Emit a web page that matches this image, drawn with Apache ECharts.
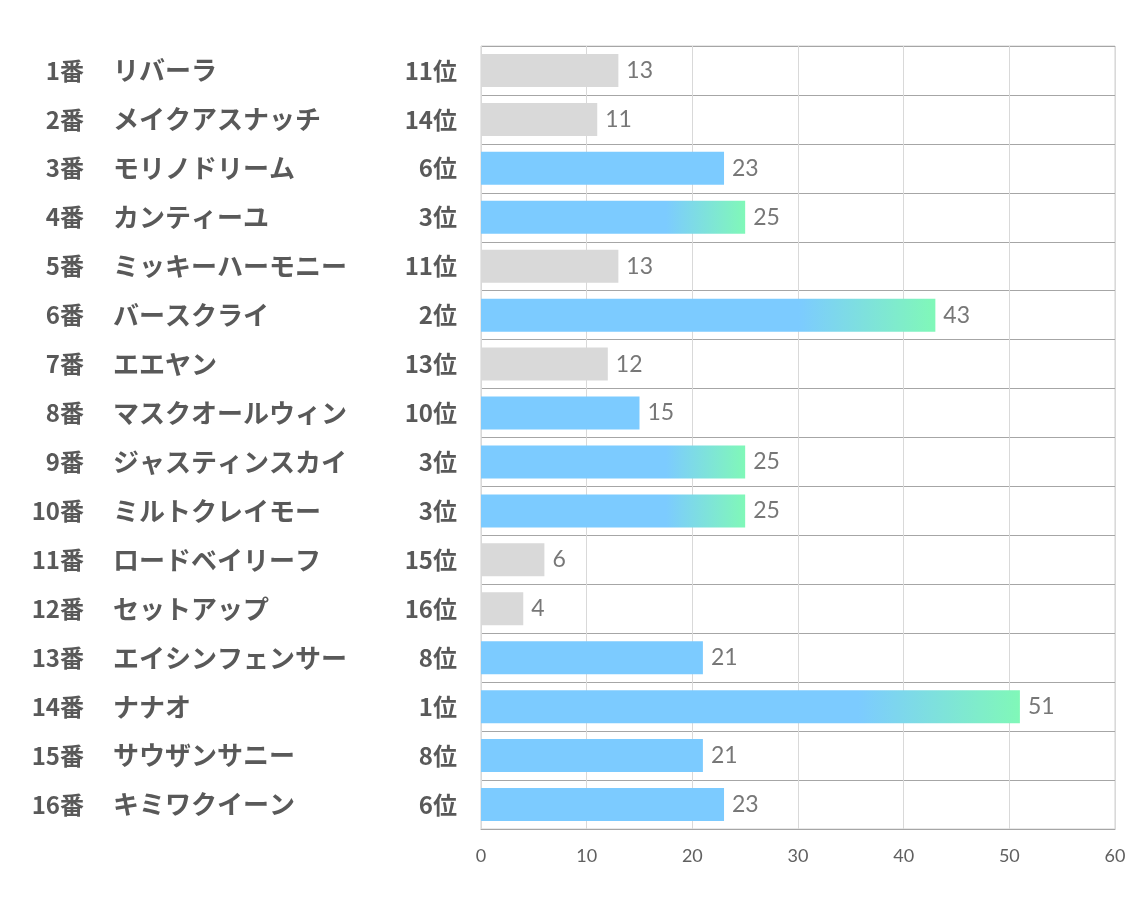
<!DOCTYPE html>
<html><head><meta charset="utf-8">
<script src="https://cdn.jsdelivr.net/npm/echarts@6/dist/echarts.min.js"></script>
<style>html,body{margin:0;padding:0;background:#fff}#c{width:1134px;height:907px}</style>
</head><body><div id="c"></div>
<script>
const numbers = ['1番','2番','3番','4番','5番','6番','7番','8番','9番','10番','11番','12番','13番','14番','15番','16番'];
const names = ['リバーラ','メイクアスナッチ','モリノドリーム','カンティーユ','ミッキーハーモニー','バースクライ','エエヤン','マスクオールウィン','ジャスティンスカイ','ミルトクレイモー','ロードベイリーフ','セットアップ','エイシンフェンサー','ナナオ','サウザンサニー','キミワクイーン'];
const ranks = [11,14,6,3,11,2,13,10,3,3,15,16,8,1,8,6];
const values = [13,11,23,25,13,43,12,15,25,25,6,4,21,51,21,23];
const xTicks = [0,10,20,30,40,50,60];

const BLUE = '#7ccbff', GREEN = '#80f8b8', GRAY = '#d9d9d9';
function colorFor(r){
  if (r <= 3) return new echarts.graphic.LinearGradient(0,0,1,0,[
    {offset:0,color:BLUE},{offset:0.7,color:BLUE},{offset:1,color:GREEN}]);
  if (r <= 10) return BLUE;
  return GRAY;
}
const rankLabels = ranks.map(r => r + '位');
const labelFont = '"Noto Sans CJK JP", sans-serif';
const txt = {fontWeight:'bold',color:'#595959',fontFamily:labelFont};
function catAxis(data, margin, align, size, split){
  return {type:'category',data:data,inverse:true,position:'left',
    axisLine:{show:false},axisTick:{show:false},
    splitLine:{show:split,lineStyle:{color:'#a6a6a6'}},
    axisLabel:Object.assign({margin:margin,align:align,fontSize:size},txt)};
}
const chart = echarts.init(document.getElementById('c'));
chart.setOption({
  animation:false,
  grid:{left:481,right:19,top:46,bottom:78,show:true,borderColor:'#d0d0d0',borderWidth:1},
  xAxis:{type:'value',min:xTicks[0],max:xTicks[xTicks.length-1],interval:10,
    axisLine:{show:true,lineStyle:{color:'#a6a6a6'}},axisTick:{show:false},
    axisLabel:{color:'#606060',fontSize:18,fontFamily:'Lato, "Open Sans", sans-serif',margin:18},
    splitLine:{show:true,lineStyle:{color:'#d9d9d9'}}},
  yAxis:[
    catAxis(rankLabels, 24, 'right', 24, true),
    catAxis(numbers, 481-84, 'right', 24, false),
    catAxis(names, 481-113, 'left', 26, false)
  ],
  series:[{type:'bar',barWidth:33,yAxisIndex:0,
    data:values.map((v,i)=>({value:v,itemStyle:{color:colorFor(ranks[i])}})),
    label:{show:true,position:'right',distance:8,color:'#777',fontSize:23,fontFamily:'Lato, "Open Sans", sans-serif'}}]
});
</script></body></html>
